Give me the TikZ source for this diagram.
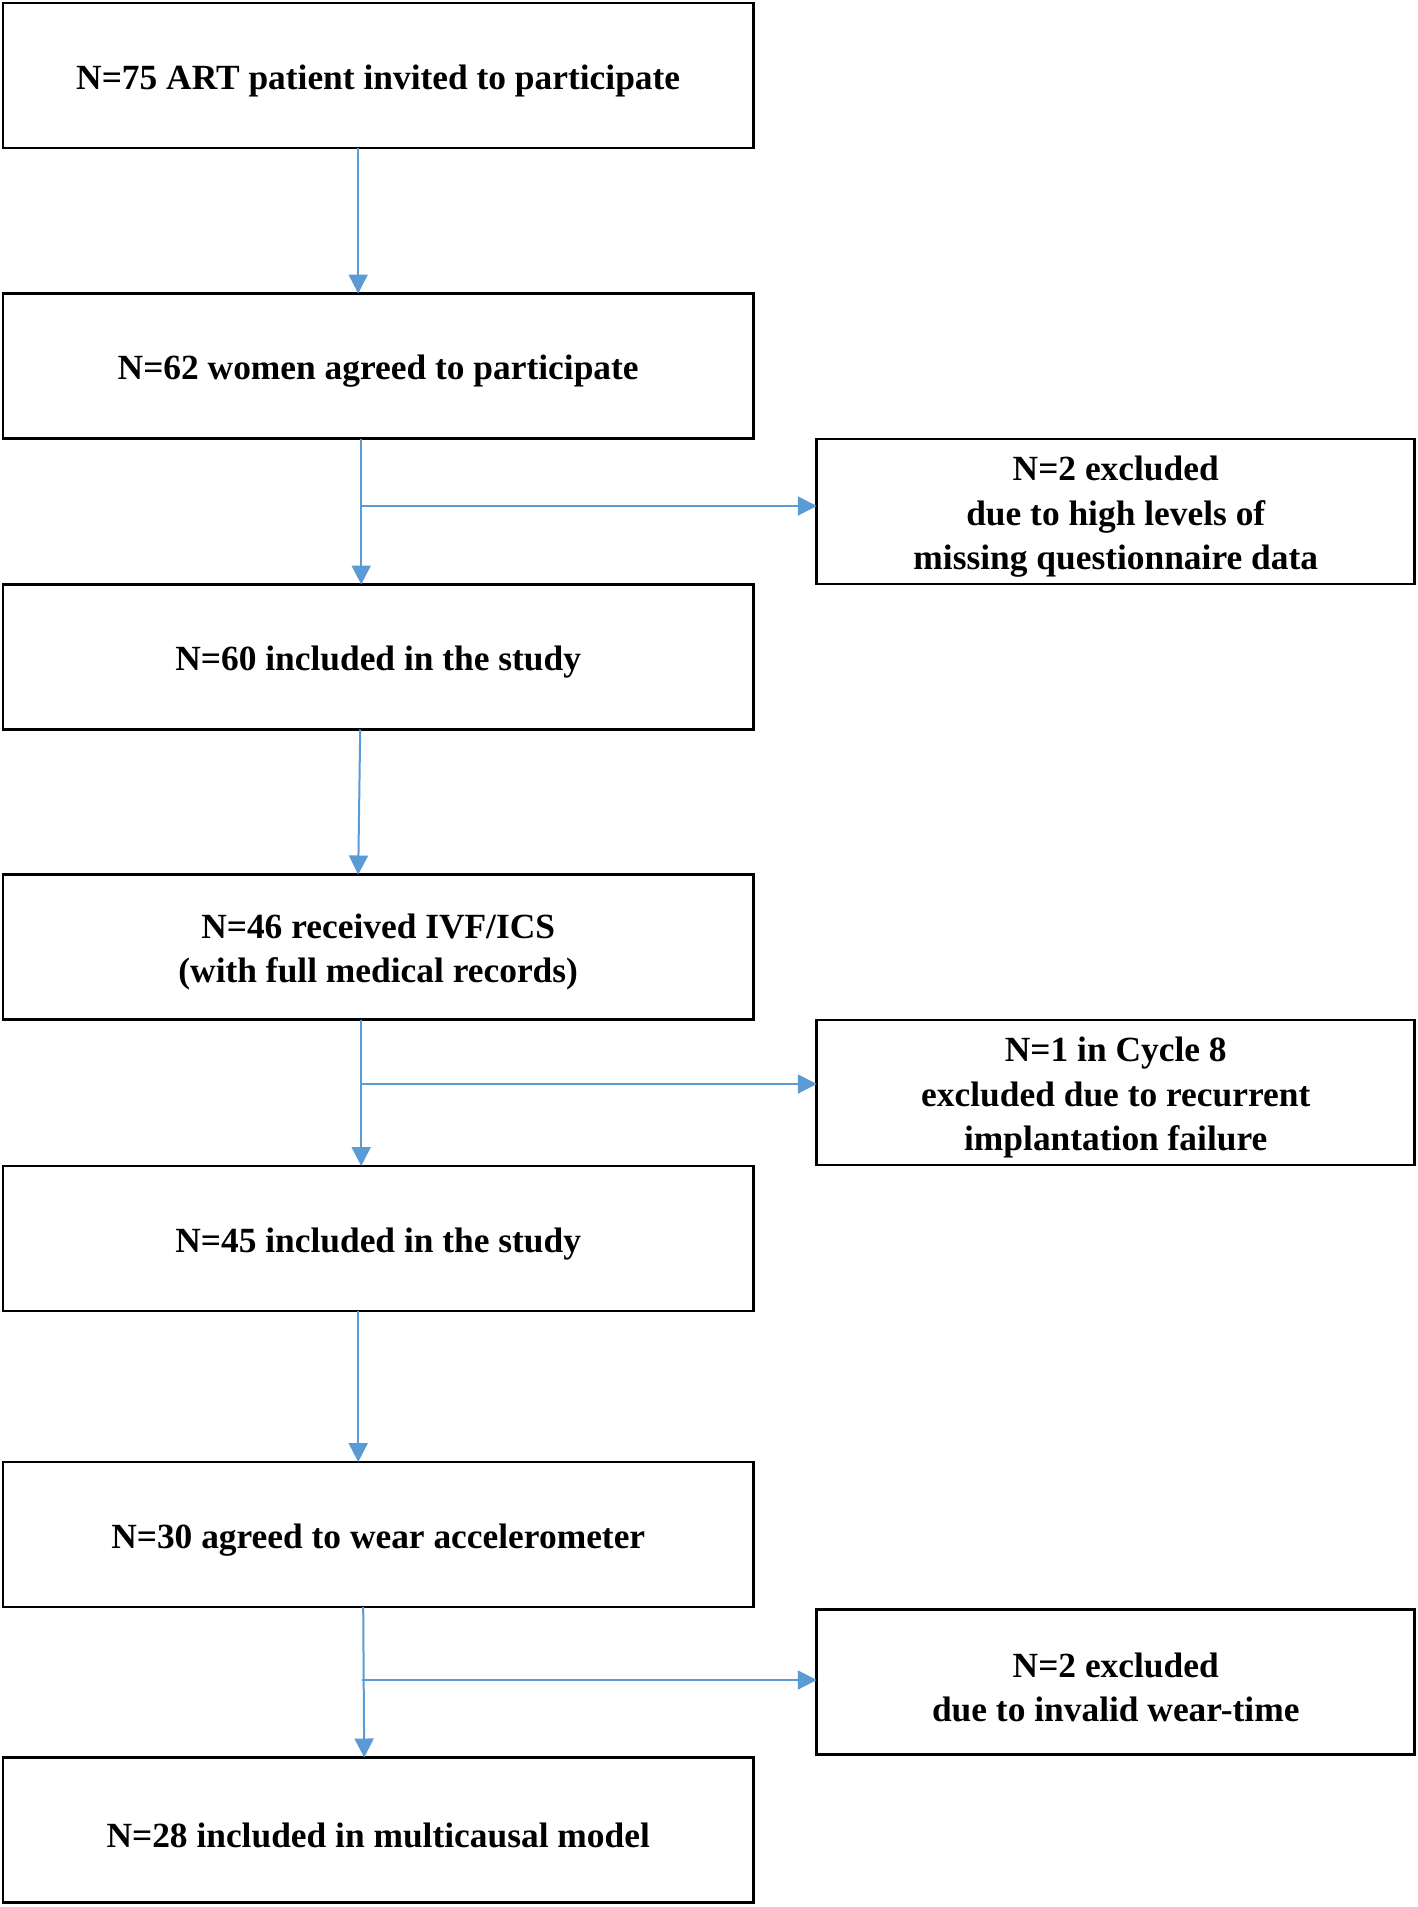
\documentclass[tikz,border=0pt]{standalone}
\usepackage{fontspec}
\setmainfont{Liberation Serif}
\usetikzlibrary{arrows.meta}
\definecolor{arrblue}{RGB}{91,155,213}
\begin{document}
\begin{tikzpicture}[x=0.5pt,y=-0.5pt,
  box/.style={draw=black,line width=1.3pt,rectangle,inner sep=0pt,outer sep=0pt},
  txt/.style={align=center,yshift=-2.6pt,inner sep=0pt,
    font=\fontsize{17.7}{22.2}\selectfont\bfseries},
  lbox/.style={box,minimum width=375pt,minimum height=72.5pt},
  rbox/.style={box,minimum width=299pt,minimum height=72.5pt},
  arr/.style={draw=arrblue,line width=1pt,-{Triangle[length=9.5pt,width=9.5pt]}}]
\useasboundingbox[fill=white] (0,0) rectangle (1418,1907);

\node[lbox,label={[txt]center:{N=75 ART patient invited to participate}}] (b1) at (378.2,75.4) {};
\node[lbox,label={[txt]center:{N=62 women agreed to participate}}] (b2) at (378.2,366) {};
\node[lbox,label={[txt]center:{N=60 included in the study}}] (b3) at (378.2,657) {};
\node[lbox,label={[txt]center:{N=46 received IVF/ICS\\(with full medical records)}}] (b4) at (378.2,947) {};
\node[lbox,label={[txt]center:{N=45 included in the study}}] (b5) at (378.2,1238.5) {};
\node[lbox,label={[txt]center:{N=30 agreed to wear accelerometer}}] (b6) at (378.2,1534.5) {};
\node[lbox,label={[txt]center:{N=28 included in multicausal model}}] (b7) at (378.2,1830) {};

\node[rbox,label={[txt]center:{N=2 excluded\\due to high levels of\\missing questionnaire data}}] (r1) at (1115.75,511.5) {};
\node[rbox,label={[txt]center:{N=1 in Cycle 8\\excluded due to recurrent\\implantation failure}}] (r2) at (1115.75,1092.5) {};
\node[rbox,label={[txt]center:{N=2 excluded\\due to invalid wear-time}}] (r3) at (1115.75,1682) {};

\draw[arr] ([xshift=-10pt]b1.south) -- ([xshift=-10pt]b2.north);
\draw[arr] ([xshift=-8.5pt]b2.south) -- ([xshift=-8.5pt]b3.north);
\coordinate (j1) at (361,506);
\draw[arr] (j1) -- (j1 -| r1.west);
\draw[arr] ([xshift=-9pt]b3.south) -- ([xshift=-10pt]b4.north);
\draw[arr] ([xshift=-8.5pt]b4.south) -- ([xshift=-8.5pt]b5.north);
\coordinate (j2) at (361,1084);
\draw[arr] (j2) -- (j2 -| r2.west);
\draw[arr] ([xshift=-10pt]b5.south) -- ([xshift=-10pt]b6.north);
\draw[arr] ([xshift=-7.5pt]b6.south) -- ([xshift=-7pt]b7.north);
\coordinate (j3) at (362,1680);
\draw[arr] (j3) -- (j3 -| r3.west);
\end{tikzpicture}
\end{document}
